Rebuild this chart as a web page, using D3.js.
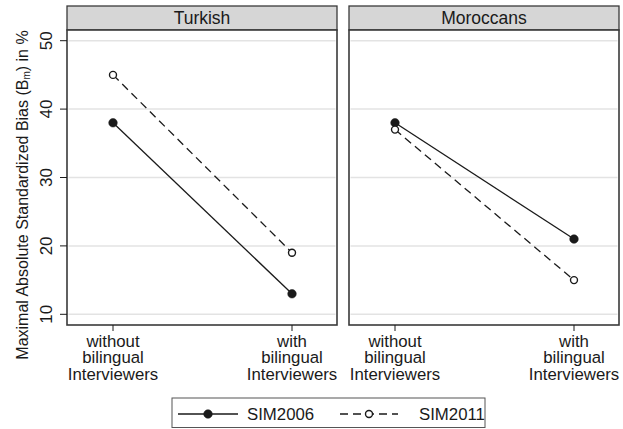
<!DOCTYPE html>
<html>
<head>
<meta charset="utf-8">
<script src="https://cdn.jsdelivr.net/npm/d3@7"></script>
<style>
  html, body { margin: 0; padding: 0; background: #fff; }
  svg { display: block; font-family: "Liberation Sans", Arial, Helvetica, sans-serif; }
</style>
</head>
<body>
<svg id="chart" width="623" height="429"></svg>
<script>
// Data
const groups = ["Turkish", "Moroccans"];
const categories = ["without bilingual Interviewers", "with bilingual Interviewers"];
const seriesNames = ["SIM2006", "SIM2011"];
const sim2006 = { Turkish: [38, 13], Moroccans: [38, 21] };
const sim2011 = { Turkish: [45, 19], Moroccans: [37, 15] };
const yTicks = [10, 20, 30, 40, 50];

const svg = d3.select("#chart");
const ink = "#1a1a1a";
const frame = "#3a3a3a";

// Layout
const panelX = [67, 349];
const panelW = 270;
const headTop = 6, plotTop = 30, plotBottom = 325;

const y = d3.scaleLinear().domain([10, 50]).range([314.3, 40.7]);
const x = d3.scalePoint().domain(categories).range([46, 225]);

const series = [
  { name: seriesNames[0], values: sim2006, dash: null, filled: true },
  { name: seriesNames[1], values: sim2011, dash: "8,5", filled: false }
];

groups.forEach((g, gi) => {
  const p = svg.append("g").attr("transform", `translate(${panelX[gi]},0)`);

  // header strip
  p.append("rect")
    .attr("x", 0).attr("y", headTop)
    .attr("width", panelW).attr("height", plotTop - headTop)
    .attr("fill", "#d6d6d6").attr("stroke", frame).attr("stroke-width", 1.3);
  p.append("text")
    .attr("x", panelW / 2).attr("y", plotTop - 6)
    .attr("text-anchor", "middle")
    .attr("font-size", 17.5).attr("fill", ink)
    .text(g);

  // plot background
  p.append("rect")
    .attr("x", 0).attr("y", plotTop)
    .attr("width", panelW).attr("height", plotBottom - plotTop)
    .attr("fill", "#fff");

  // gridlines
  p.append("g").selectAll("line").data(yTicks).join("line")
    .attr("x1", 1.5).attr("x2", panelW - 1.5)
    .attr("y1", d => y(d)).attr("y2", d => y(d))
    .attr("stroke", "#e3e3e3").attr("stroke-width", 1.5);

  // series lines and markers
  series.forEach(s => {
    const vals = s.values[g];
    const pts = categories.map((c, i) => [x(c), y(vals[i])]);
    p.append("path")
      .attr("d", d3.line()(pts))
      .attr("fill", "none").attr("stroke", ink).attr("stroke-width", 1.3)
      .attr("stroke-dasharray", s.dash);
    p.append("g").selectAll("circle").data(pts).join("circle")
      .attr("cx", d => d[0]).attr("cy", d => d[1])
      .attr("r", s.filled ? 4.3 : 3.5)
      .attr("fill", s.filled ? ink : "#fff")
      .attr("stroke", ink).attr("stroke-width", s.filled ? 0.5 : 1.4);
  });

  // frame
  p.append("rect")
    .attr("x", 0).attr("y", plotTop)
    .attr("width", panelW).attr("height", plotBottom - plotTop)
    .attr("fill", "none").attr("stroke", frame).attr("stroke-width", 1.6);

  // x axis ticks and wrapped labels
  const xa = p.append("g");
  categories.forEach(c => {
    xa.append("line")
      .attr("x1", x(c)).attr("x2", x(c))
      .attr("y1", plotBottom).attr("y2", plotBottom + 6)
      .attr("stroke", ink).attr("stroke-width", 1);
    const words = c.split(" ");
    const t = xa.append("text")
      .attr("text-anchor", "middle").attr("font-size", 16.8).attr("fill", ink);
    words.forEach((w, i) => {
      t.append("tspan").attr("x", x(c)).attr("y", 346.5 + i * 16.6).text(w);
    });
  });
});

// y axis on the left panel
const ya = svg.append("g").attr("transform", `translate(${panelX[0]},0)`);
yTicks.forEach(v => {
  ya.append("line")
    .attr("x1", -7).attr("x2", 0)
    .attr("y1", y(v)).attr("y2", y(v))
    .attr("stroke", ink).attr("stroke-width", 1);
  ya.append("text")
    .attr("transform", `translate(${-15},${y(v)}) rotate(-90)`)
    .attr("text-anchor", "middle")
    .attr("font-size", 17).attr("fill", ink)
    .text(v);
});

// y axis title with subscript
const yt = svg.append("text")
  .attr("transform", "translate(27.5,195) rotate(-90)")
  .attr("text-anchor", "middle")
  .attr("font-size", 16).attr("fill", ink);
yt.append("tspan").text("Maximal Absolute Standardized Bias (B");
yt.append("tspan").attr("font-size", 10).attr("dy", 2).text("m");
yt.append("tspan").attr("dy", -2).text(") in %");

// legend
const lg = svg.append("g");
lg.append("rect")
  .attr("x", 172).attr("y", 398).attr("width", 313).attr("height", 29.5)
  .attr("fill", "#fff").attr("stroke", "#555").attr("stroke-width", 1);
const legendItems = [
  { s: series[0], x0: 178, x1: 238, tx: 247 },
  { s: series[1], x0: 340, x1: 398, tx: 419 }
];
legendItems.forEach(it => {
  const cy = 414;
  lg.append("line")
    .attr("x1", it.x0).attr("x2", it.x1).attr("y1", cy).attr("y2", cy)
    .attr("stroke", ink).attr("stroke-width", 1.3)
    .attr("stroke-dasharray", it.s.dash);
  lg.append("circle")
    .attr("cx", (it.x0 + it.x1) / 2).attr("cy", cy)
    .attr("r", it.s.filled ? 4.3 : 3.5)
    .attr("fill", it.s.filled ? ink : "#fff")
    .attr("stroke", ink).attr("stroke-width", it.s.filled ? 0.5 : 1.4);
  lg.append("text")
    .attr("x", it.tx).attr("y", 419.5)
    .attr("font-size", 16.8).attr("fill", ink)
    .text(it.s.name);
});
</script>
</body>
</html>
